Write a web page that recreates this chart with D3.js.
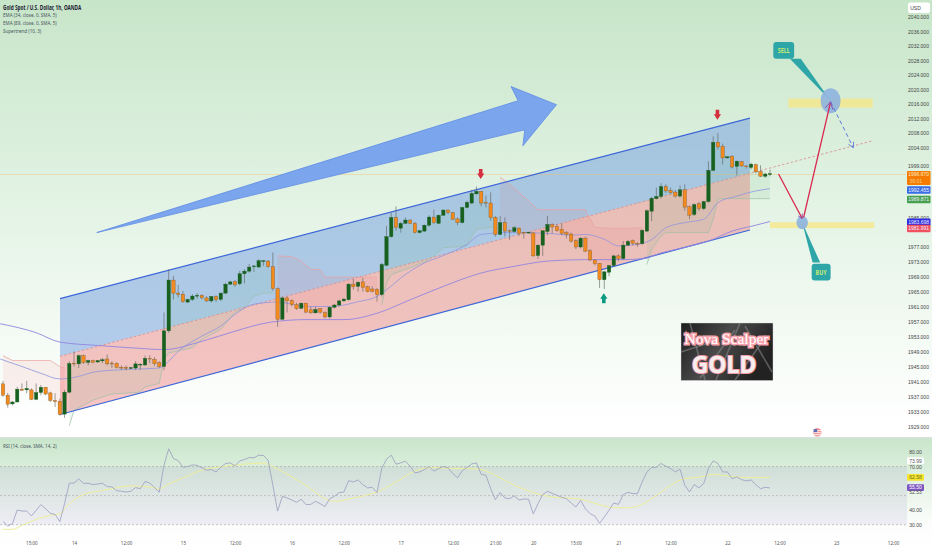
<!DOCTYPE html>
<html><head><meta charset="utf-8">
<script src="https://cdnjs.cloudflare.com/ajax/libs/d3/7.8.5/d3.min.js"></script>
<style>html,body{margin:0;padding:0;background:#fff;overflow:hidden}svg{display:block}text{font-family:"Noto Sans",Roboto,sans-serif}text.keep.num{font-family:"Liberation Sans",sans-serif}</style>
</head><body><div id="c"></div>
<script>
// ---- candles (1h, prices in USD)
const opens=[1940.4,1937.4,1935.1,1935.6,1939.0,1938.8,1938.8,1936.3,1938.1,1939.5,1938.0,1936.0,1935.8,1932.4,1938.2,1945.9,1945.7,1947.9,1946.1,1946.6,1946.2,1946.5,1947.0,1945.9,1945.8,1944.8,1944.8,1944.5,1944.6,1945.4,1945.4,1947.2,1946.9,1946.0,1945.0,1954.5,1968.1,1964.6,1964.3,1962.2,1962.9,1963.8,1964.0,1963.3,1962.5,1963.7,1962.9,1964.6,1967.0,1967.7,1967.1,1969.8,1970.5,1971.7,1971.6,1973.2,1973.2,1971.7,1965.8,1957.6,1963.3,1962.6,1961.5,1960.5,1961.9,
1960.1,1959.3,1960.4,1959.4,1958.2,1960.8,1961.4,1962.5,1962.8,1967.0,1966.4,1967.6,1966.3,1965.7,1965.6,1964.2,1972.1,1979.8,1985.0,1982.1,1983.4,1984.3,1983.4,1980.9,1981.3,1982.9,1985.1,1983.4,1985.6,1987.0,1986.3,1984.6,1983.6,1987.7,1988.9,1991.4,1992.1,1989.1,1988.9,1985.0,1980.4,1983.6,1981.4,1981.2,1982.1,1981.0,1980.8,1980.8,1974.7,1977.5,1981.2,1983.1,1982.5,1981.8,1980.9,1980.5,1978.7,1977.0,1979.4,1976.0,1973.5,1972.6,1968.2,1970.2,1972.0,1974.6,
1973.9,1977.5,1978.7,1978.0,1977.9,1981.3,1986.7,1990.1,1990.7,1993.4,1992.4,1991.9,1990.8,1992.5,1987.9,1985.8,1988.7,1987.4,1989.3,1997.8,2005.5,2004.4,2001.2,2001.7,1998.9,2000.2,1999.0,1998.6,1999.4,1997.5,1996.2,1996.7];
const highs=[1941.2,1938.0,1935.8,1939.6,1940.5,1941.2,1939.2,1940.5,1940.1,1939.6,1938.3,1937.9,1936.5,1938.8,1946.4,1949.0,1948.2,1948.2,1946.8,1946.8,1946.7,1947.3,1948.2,1946.4,1946.1,1945.3,1945.3,1944.9,1946.4,1945.9,1947.9,1948.0,1947.5,1946.4,1959.4,1971.0,1969.2,1966.8,1965.2,1963.1,1964.3,1964.6,1964.3,1963.8,1963.8,1964.0,1964.7,1967.4,1967.9,1968.1,1970.6,1971.0,1972.4,1972.1,1973.7,1973.5,1973.5,1975.5,1966.1,1963.7,1963.7,1962.9,1962.0,1962.0,1962.0,
1961.0,1961.0,1960.6,1959.7,1961.0,1961.7,1962.8,1963.2,1967.3,1968.4,1967.8,1968.7,1966.6,1966.4,1966.0,1972.7,1982.7,1986.3,1988.0,1983.8,1985.0,1984.5,1983.8,1981.6,1983.1,1985.6,1987.1,1985.8,1987.2,1987.2,1986.5,1985.0,1987.9,1989.5,1992.5,1993.4,1992.2,1990.9,1991.8,1985.4,1985.4,1985.0,1981.8,1982.7,1982.3,1981.1,1981.1,1981.0,1977.7,1981.5,1985.4,1983.4,1983.1,1983.4,1981.3,1980.9,1979.1,1979.6,1979.8,1976.4,1973.6,1972.7,1970.5,1972.2,1974.9,1975.0,
1978.6,1978.9,1979.0,1978.3,1981.8,1987.2,1990.6,1993.1,1994.3,1994.0,1993.1,1992.5,1993.7,1994.0,1988.3,1988.8,1989.2,1989.5,2000.3,2007.1,2008.0,2005.1,2001.7,2001.9,2000.5,2000.4,1999.2,1999.9,1999.6,1999.2,1997.2,1998.0];
const lows=[1937.0,1934.1,1934.7,1935.5,1938.5,1937.9,1936.1,1936.1,1937.4,1937.4,1935.6,1934.3,1932.0,1931.4,1937.9,1945.0,1944.6,1945.7,1945.3,1945.9,1946.0,1945.9,1945.3,1944.6,1944.5,1944.1,1944.0,1944.3,1944.1,1944.1,1945.2,1945.9,1945.2,1944.6,1944.0,1954.0,1962.9,1963.4,1962.0,1961.9,1962.5,1963.1,1962.9,1962.2,1962.0,1962.2,1962.5,1964.3,1966.8,1966.3,1966.7,1967.2,1970.1,1970.3,1971.4,1971.9,1971.4,1965.2,1955.6,1957.4,1959.4,1961.0,1960.1,1960.3,1959.2,
1959.1,1959.1,1959.1,1957.8,1957.8,1960.5,1961.0,1962.3,1962.6,1965.5,1965.0,1965.0,1964.8,1964.8,1962.3,1963.7,1971.8,1979.5,1981.4,1980.9,1983.2,1983.2,1980.7,1980.7,1981.1,1982.5,1983.2,1983.2,1985.4,1985.9,1984.3,1982.9,1983.4,1987.5,1988.6,1991.2,1988.0,1987.7,1984.1,1979.8,1980.2,1979.8,1978.9,1980.9,1980.0,1979.3,1980.6,1974.4,1973.8,1974.6,1980.2,1980.7,1981.1,1980.2,1979.3,1978.2,1976.4,1976.6,1975.6,1973.2,1972.0,1966.0,1965.7,1969.1,1971.8,1973.2,
1973.6,1977.2,1977.5,1977.1,1977.6,1981.0,1984.0,1989.9,1990.1,1991.7,1991.3,1990.4,1990.4,1986.8,1984.5,1985.4,1986.8,1987.0,1989.0,1997.6,2003.5,1999.4,2001.0,1998.3,1996.4,1998.8,1998.3,1998.1,1997.0,1996.0,1995.8,1996.2];
const closes=[1937.4,1935.0,1935.6,1939.0,1938.7,1939.2,1936.3,1938.1,1939.5,1937.7,1936.0,1935.7,1932.3,1938.2,1945.8,1945.7,1947.9,1946.1,1946.6,1946.1,1946.6,1946.8,1945.7,1945.7,1944.8,1944.6,1944.5,1944.7,1945.7,1945.6,1947.2,1947.0,1945.8,1945.0,1954.5,1968.1,1964.6,1964.2,1962.3,1962.9,1963.8,1964.0,1963.3,1962.5,1963.7,1962.8,1964.6,1967.0,1967.6,1966.8,1969.8,1970.5,1971.6,1971.9,1973.3,1973.3,1971.7,1965.8,1957.6,1963.3,1962.5,1961.5,1960.4,1961.9,1959.5,
1959.3,1960.2,1959.5,1958.2,1960.8,1961.4,1962.5,1963.0,1967.0,1966.3,1967.5,1966.1,1965.0,1965.0,1964.2,1972.3,1979.8,1985.0,1982.3,1983.4,1984.3,1983.4,1980.9,1981.4,1982.9,1985.1,1983.6,1985.6,1987.0,1986.3,1984.5,1983.6,1987.7,1989.1,1991.5,1992.1,1988.9,1988.9,1984.9,1980.4,1983.6,1981.3,1981.3,1982.2,1980.6,1980.8,1981.0,1974.6,1977.5,1981.4,1983.1,1982.4,1981.4,1980.7,1980.4,1978.6,1977.0,1979.4,1975.9,1973.5,1972.5,1968.2,1970.3,1972.0,1974.6,1973.9,
1977.5,1978.5,1978.0,1977.9,1981.5,1986.8,1990.2,1990.7,1993.4,1992.2,1991.7,1990.8,1992.5,1987.8,1985.6,1988.5,1987.4,1989.3,1997.8,2005.5,2004.2,2001.2,2001.5,1998.7,2000.3,1999.0,1998.8,1999.5,1997.4,1996.2,1996.8,1996.9];

// ---- RSI (one value per candle) and its moving average (read at the listed bars)
const rsi=[32.3,29.1,30.7,40.1,39.4,39.4,36.0,39.9,43.8,41.0,37.8,37.1,32.1,44.5,58.5,58.7,61.5,58.5,58.5,57.6,58.0,58.5,56.2,56.0,53.4,53.0,52.5,53.0,55.5,54.8,59.7,58.7,55.5,52.3,70.9,82.2,75.5,74.1,69.5,70.0,71.1,70.9,69.1,67.5,67.9,66.3,69.5,72.1,72.5,70.5,73.9,74.8,76.2,76.0,77.8,77.6,74.4,57.1,39.4,49.5,48.4,47.0,45.4,47.5,43.8,44.0,46.1,44.5,42.4,47.9,49.5,52.1,52.5,60.3,59.4,60.8,57.6,55.3,55.7,52.1,68.6,75.1,77.8,71.6,72.5,73.7,70.2,65.6,66.3,67.9,70.0,66.8,68.6,70.0,69.1,65.2,62.2,67.2,69.3,71.8,72.5,64.7,64.0,54.8,47.2,52.1,48.4,47.9,49.8,47.0,47.7,47.5,37.4,44.5,50.7,53.0,51.6,50.2,48.9,47.9,44.9,42.2,46.8,41.0,37.6,36.0,30.9,35.3,39.9,44.9,44.0,50.7,52.3,51.4,51.4,59.4,66.3,69.3,69.5,72.1,70.2,68.6,66.3,68.2,57.1,52.5,57.6,55.3,58.3,68.6,73.9,72.1,66.3,66.3,61.7,62.9,61.0,60.1,60.8,57.6,54.8,55.7,55.3];
const rsiMaBars=[0,2,4,7,10,12,14,17,20,23,27,31,33,35,38,42,46,50,55,57,61,65,68,70,74,79,83,87,91,95,98,101,104,108,112,116,119,122,126,129,132,135,138,141,144,147,150,153,157,162];
const rsiMaVals=[26.8,26.8,29.5,33.7,36.4,37.6,44.5,50.7,53.0,54.8,56.7,56.0,54.8,58.0,62.2,67.5,69.8,71.4,72.3,69.8,62.9,54.8,47.9,46.1,48.4,52.5,59.4,66.8,69.3,68.6,68.6,67.9,64.0,57.1,52.1,49.1,48.4,47.5,43.8,41.7,41.7,44.0,50.2,57.1,61.7,62.6,64.5,63.6,62.4,62.4];

// ---- moving averages (read at the listed bars)
const ema34Bars=[-0.6,4,8,12,15,20,30,33,35,37,42,46,49,53,58,64,69,72,75,79,81,85,89,93,98,101,107,115,120,123,127,130,134,137,140,144,148,151,155,159,162];
const ema34Vals=[1947.0,1945.0,1943.2,1941.7,1942.1,1943.7,1944.4,1944.6,1946.4,1949.0,1953.1,1955.8,1958.9,1961.6,1962.2,1961.0,1961.0,1961.4,1962.3,1963.7,1965.5,1969.6,1972.7,1974.7,1977.7,1980.4,1980.9,1980.7,1980.2,1980.4,1979.1,1977.3,1977.7,1979.0,1982.2,1983.6,1984.5,1989.0,1990.8,1992.2,1992.8];
const ema89Bars=[-0.6,7,12,20,28,34,42,49,56,64,72,79,86,93,101,108,115,123,130,135,139,145,149,154,159,162];
const ema89Vals=[1956.4,1954.0,1951.5,1950.6,1949.9,1949.5,1951.7,1954.4,1956.7,1957.5,1957.5,1959.2,1962.8,1966.4,1970.0,1971.8,1973.2,1973.6,1973.6,1973.8,1975.4,1977.2,1978.6,1981.3,1982.9,1983.9];

// ---- supertrend legs
const stDownA={bars:[0,2,10,12,13],vals:[1947.9,1946.6,1946.6,1945.0,1944.6]};
const stUpA={bars:[14,15,19,23,28,29,30,33,34,35,40,42,46,49,51,53,55,57],vals:[1929.3,1933.4,1936.1,1937.7,1938.1,1938.3,1939.6,1940.5,1946.8,1948.6,1950.0,1952.2,1954.9,1959.4,1960.7,1963.8,1964.6,1964.6]};
const stDownB={bars:[58,61,63,65,67,68,79],vals:[1974.6,1974.4,1973.2,1971.0,1970.9,1968.9,1968.9]};
const stUpB={bars:[80,81,82,86,90,93,98,99,100,104],vals:[1961.4,1967.3,1969.6,1971.4,1973.6,1976.8,1977.3,1979.8,1981.8,1982.5]};
const stDownC={bars:[105,106,109,113,123,125,130,135],vals:[1995.9,1995.0,1991.8,1987.1,1987.1,1982.3,1982.0,1982.2]};
const stUpC={bars:[136,137,139,140,149,150,151,162],vals:[1972.3,1976.3,1980.0,1980.9,1980.9,1984.5,1990.1,1990.1]};

// ---- drawings, in bars and prices
const channelBars=[12.04,157.76];
const channelTop=[1963.1,2012.1];
const channelMid=[1947.7,1997.0];
const channelLow=[1932.3,1981.6];
const midExtBar=183.7, midExtPrice=2005.9;
const bigArrowBars=[19.8,108.8,107.3,116.9,109.8,110.2];
const bigArrowPrices=[1980.9,2016.9,2020.8,2015.8,2004.5,2008.9];
const downMarks=[[100.9,1996.8],[150.9,2013.0]];
const upMarks=[[126.9,1963.2]];
const zoneSell=[165.9,183.7,2017.5,2015.0], zoneBuy=[162.0,184.0,1983.7,1982.1];
const pathRedBars=[163.8,168.8,169.1,174.8], pathRedPrices=[1996.8,1984.7,1985.0,2016.6];
const pathBlueBars=[174.8,179.6], pathBluePrices=[2016.6,2004.0];
const circleSell=[174.8,2016.9], circleBuy=[168.8,1983.6];
const sellBubble=[166.2,168.5,2028.5], buyBubble=[171,172.6,1972.8];
const buyBox=[170.8,174.8,1972.5,1968.0], sellBox=[162.7,167.1,2033.1,2028.5];

// ---- labels
const priceTicks=[2040,2036,2032,2028,2024,2020,2016,2012,2008,2004,1999,1985,1977,1973,1969,1965,1961,1957,1953,1949,1945,1941,1937,1933,1929];
const timeBars=[6,15,26,38,49,61,72,84,95,104,112,121,130,141,153,164,176,188];
const timeLabels=["15:00","14","12:00","15","12:00","16","12:00","17","12:00","21:00","20","15:00","21","12:00","22","12:00","23","12:00"];
const legendLines=["EMA (34, close, 0, SMA, 5)","EMA (89, close, 0, SMA, 5)","Supertrend (10, 3)"];
const priceTags=[{v:1992.455,c:"#3a6ee6"},{v:1989.871,c:"#47a04f"},{v:1983.698,c:"#2b2be0"},{v:1981.991,c:"#f0505f"}];
const lastPrice=1996.67, countdown="39:01";
const rsiTicks=[80,70,40,30];
const rsiTags=[{v:73.99,c:"#fff",t:"#555"},{v:62.58,c:"#f5e52e",t:"#6f6f20"},{v:55.50,c:"#7e57c2",t:"#fff"},{v:52.53,c:"none",t:"#555"}];

// ---- layout
const W=932,H=550,paneBottom=437,rsiTop=439;
const x=d3.scaleLinear().domain([0,162]).range([3,770]);
const y=d3.scaleLog().domain([1929,2040]).range([427,17.3]);
const yR=d3.scaleLinear().domain([30,80]).range([524.7,452]);
const bodyW=3.4, numSize=5;

const svg=d3.select("#c").append("svg").attr("width",W).attr("height",H).attr("viewBox",`0 0 ${W} ${H}`);
const defs=svg.append("defs");
function grad(id,stops,x2=0,y2=1){const g=defs.append("linearGradient").attr("id",id).attr("x1",0).attr("y1",0).attr("x2",x2).attr("y2",y2);
 stops.forEach(s=>g.append("stop").attr("offset",s[0]).attr("stop-color",s[1]));}
grad("bgMain",[[0,"#c7e5c9"],[0.5,"#e5f4e6"],[0.97,"#ffffff"]]);
grad("bgRsi",[[0,"#c9e6cb"],[0.75,"#fbfdfb"],[1,"#ffffff"]]);
grad("bill",[[0,"#1c1c1c"],[0.5,"#4a4a4a"],[1,"#222"]],1,0.4);

svg.append("rect").attr("width",W).attr("height",paneBottom).attr("fill","url(#bgMain)");
svg.append("rect").attr("y",paneBottom).attr("width",W).attr("height",2).attr("fill","#d5e2da");
svg.append("rect").attr("y",rsiTop).attr("width",W).attr("height",H-rsiTop).attr("fill","url(#bgRsi)");
svg.append("rect").attr("y",yR(70)).attr("width",907).attr("height",yR(30)-yR(70)).attr("fill","rgba(115,95,175,0.10)");

const lineFn=d3.line().x(d=>x(d[0])).y(d=>y(d[1]));
const zip=(a,b)=>a.map((v,i)=>[v,b[i]]);

// channel
svg.append("path").attr("d",lineFn([[channelBars[0],channelTop[0]],[channelBars[1],channelTop[1]],[channelBars[1],channelMid[1]],[channelBars[0],channelMid[0]]])+"Z").attr("fill","#6f9be0").attr("fill-opacity",.5);
svg.append("path").attr("d",lineFn([[channelBars[0],channelMid[0]],[channelBars[1],channelMid[1]],[channelBars[1],channelLow[1]],[channelBars[0],channelLow[0]]])+"Z").attr("fill","#ee8a8a").attr("fill-opacity",.5);

// last price line
svg.append("line").attr("x1",0).attr("x2",906).attr("y1",y(lastPrice)).attr("y2",y(lastPrice)).attr("stroke","#f3c070").attr("stroke-opacity",.42).attr("stroke-width",1);

// supertrend fill + lines
const mids=opens.map((o,i)=>(o+closes[i])/2);
function stLeg(leg,col,fill){
  const s=d3.scaleLinear().domain(leg.bars).range(leg.vals);
  const a=leg.bars[0],b=leg.bars[leg.bars.length-1];
  const idx=d3.range(a,b+1);
  svg.append("path").attr("d",d3.area().x(i=>x(i)).y0(i=>y(s(i))).y1(i=>y(mids[i]))(idx)).attr("fill",fill);
  svg.append("path").attr("d",lineFn(zip(leg.bars,leg.vals))).attr("fill","none").attr("stroke",col).attr("stroke-width",.7);
}
[stDownA,stDownB,stDownC].forEach(l=>stLeg(l,"#e9a0a0","rgba(240,90,90,0.09)"));
[stUpA,stUpB,stUpC].forEach(l=>stLeg(l,"#9dbfa8","rgba(90,190,130,0.10)"));

// channel lines
svg.append("path").attr("d",lineFn(zip(channelBars,channelTop))).attr("stroke","#3c66d8").attr("stroke-width",1.2).attr("fill","none");
svg.append("path").attr("d",lineFn(zip(channelBars,channelLow))).attr("stroke","#3c66d8").attr("stroke-width",1.2).attr("fill","none");
svg.append("path").attr("d",lineFn([[channelBars[0],channelMid[0]],[midExtBar,midExtPrice]])).attr("stroke","#d98a8a").attr("stroke-width",.8).attr("stroke-dasharray","2.5 2").attr("fill","none");

// EMAs
const smooth=d3.line().x(d=>x(d[0])).y(d=>y(d[1])).curve(d3.curveMonotoneX);
svg.append("path").attr("d",smooth(zip(ema34Bars,ema34Vals))).attr("fill","none").attr("stroke","#8f95e0").attr("stroke-width",.8);
svg.append("path").attr("d",smooth(zip(ema89Bars,ema89Vals))).attr("fill","none").attr("stroke","#9384e0").attr("stroke-width",.9);

// candles
const idxs=d3.range(opens.length);
const upC="#17601f",dnC="#f28a1e";
svg.append("g").selectAll("line").data(idxs).join("line")
 .attr("x1",x).attr("x2",x).attr("y1",i=>y(highs[i])).attr("y2",i=>y(lows[i]))
 .attr("stroke","#5a5f5a").attr("stroke-width",.6);
svg.append("g").selectAll("rect").data(idxs).join("rect")
 .attr("x",i=>x(i)-bodyW/2).attr("width",bodyW)
 .attr("y",i=>y(Math.max(opens[i],closes[i])))
 .attr("height",i=>Math.max(.8,Math.abs(y(opens[i])-y(closes[i]))))
 .attr("fill",i=>closes[i]>=opens[i]?upC:dnC)
 .attr("stroke",i=>closes[i]>=opens[i]?upC:"#7a5a30").attr("stroke-width",.35);

// big arrow
svg.append("path").attr("d",lineFn(zip(bigArrowBars,bigArrowPrices))+"Z").attr("fill","#7ba5ec").attr("stroke","#5f8be6").attr("stroke-width",.8);

// signal marks
function mark(list,col,dir){
 svg.append("g").selectAll("path").data(list).join("path")
  .attr("transform",d=>`translate(${x(d[0])},${y(d[1])}) scale(1,${dir})`)
  .attr("d","M-1.8,-5L1.8,-5L1.8,-0.5L3.6,-0.5L0,5L-3.6,-0.5L-1.8,-0.5Z").attr("fill",col);
}
mark(downMarks,"#d32f3f",1);
mark(upMarks,"#0c9a80",-1);

// zones
[zoneSell,zoneBuy].forEach(z=>svg.append("rect").attr("x",x(z[0])).attr("width",x(z[1])-x(z[0])).attr("y",y(z[2])).attr("height",y(z[3])-y(z[2])).attr("fill","#f4e88e").attr("fill-opacity",.85));

// callouts
const teal="#2ea6a8";
svg.append("path").attr("d",d3.line()([[x(sellBubble[0]),y(sellBubble[2])],[x(sellBubble[1]),y(sellBubble[2])],[x(circleSell[0]),y(circleSell[1])]])+"Z").attr("fill",teal);
svg.append("path").attr("d",d3.line()([[x(buyBubble[0]),y(buyBubble[2])],[x(buyBubble[1]),y(buyBubble[2])],[x(circleBuy[0]),y(circleBuy[1])]])+"Z").attr("fill",teal);
[[sellBox,"SELL"],[buyBox,"BUY"]].forEach(([b,t])=>{
 svg.append("rect").attr("x",x(b[0])).attr("y",y(b[2])).attr("width",x(b[1])-x(b[0])).attr("height",y(b[3])-y(b[2])).attr("rx",3).attr("fill",teal);
 svg.append("text").attr("x",(x(b[0])+x(b[1]))/2).attr("y",(y(b[2])+y(b[3]))/2+2.5).attr("text-anchor","middle").attr("font-size",7).attr("font-weight",700).attr("fill","#c4ea72").text(t);
});
// circles
svg.append("ellipse").attr("cx",x(circleSell[0])).attr("cy",y(circleSell[1])).attr("rx",10).attr("ry",12.5).attr("fill","#8fb4de").attr("fill-opacity",.92);
svg.append("ellipse").attr("cx",x(circleBuy[0])).attr("cy",y(circleBuy[1])).attr("rx",5.8).attr("ry",6.6).attr("fill","#8fb4de").attr("fill-opacity",.92);

// trade paths
function head(x0,y0,x1,y1,len,col,w){
 const a=Math.atan2(y1-y0,x1-x0),s=.5;
 svg.append("path").attr("d",d3.line()([[x1-len*Math.cos(a-s),y1-len*Math.sin(a-s)],[x1,y1],[x1-len*Math.cos(a+s),y1-len*Math.sin(a+s)]])).attr("fill","none").attr("stroke",col).attr("stroke-width",w);
}
svg.append("path").attr("d",lineFn(zip(pathRedBars.slice(0,2),pathRedPrices.slice(0,2)))).attr("stroke","#d9274f").attr("stroke-width",1.3).attr("fill","none");
svg.append("path").attr("d",lineFn(zip(pathRedBars.slice(2),pathRedPrices.slice(2)))).attr("stroke","#d9274f").attr("stroke-width",1.3).attr("fill","none");
head(x(pathRedBars[0]),y(pathRedPrices[0]),x(pathRedBars[1]),y(pathRedPrices[1]),5,"#8a50b0",.9);
head(x(pathRedBars[2]),y(pathRedPrices[2]),x(pathRedBars[3]),y(pathRedPrices[3]),8,"#8a50b0",1);
svg.append("path").attr("d",lineFn(zip(pathBlueBars,pathBluePrices))).attr("stroke","#5b78d8").attr("stroke-width",1).attr("stroke-dasharray","4 3").attr("fill","none");
head(x(pathBlueBars[0]),y(pathBluePrices[0]),x(pathBlueBars[1]),y(pathBluePrices[1]),6,"#5b78d8",.9);

// logo image
const L=svg.append("g");
L.append("rect").attr("x",681).attr("y",323).attr("width",92).attr("height",57.5).attr("fill","url(#bill)").attr("stroke","#ddd").attr("stroke-width",.4);
const streaks=[[690,323,705,380],[740,323,716,380],[760,345,735,380],[681,352,718,340],[745,326,772,372],[700,378,735,330]];
L.selectAll("line").data(streaks).join("line").attr("x1",d=>d[0]).attr("y1",d=>d[1]).attr("x2",d=>d[2]).attr("y2",d=>d[3]).attr("stroke","#8a8a8a").attr("stroke-opacity",.55).attr("stroke-width",1.6);
L.append("text").attr("class","keep").attr("x",726.5).attr("y",344).attr("text-anchor","middle").attr("font-size",15.5).style("font-family","'Liberation Serif',serif").attr("fill","#fff").attr("stroke","#f7a3ad").attr("stroke-width",3).attr("paint-order","stroke").text("Nova Scalper");
L.append("text").attr("class","keep").attr("x",724).attr("y",372.5).attr("text-anchor","middle").attr("font-size",23).attr("font-weight",700).attr("fill","#f6eeee").attr("stroke","#f29aa5").attr("stroke-width",2).attr("paint-order","stroke").text("GOLD");

// flag icon
const F=svg.append("g").attr("transform","translate(817.3,432.3)");
F.append("circle").attr("r",4.4).attr("fill","#f08a8a").attr("stroke","#fff").attr("stroke-width",.4);
[-2,0,2].forEach(d=>F.append("rect").attr("x",-4).attr("y",d).attr("width",8).attr("height",.9).attr("fill","#fff"));
F.append("rect").attr("x",-3.6).attr("y",-3.2).attr("width",3.4).attr("height",3).attr("fill","#5a6fb8");

// price axis
const axY=svg.append("g").attr("transform","translate(918.5,0)").call(d3.axisRight(y).tickValues(priceTicks).tickSize(0).tickPadding(0).tickFormat(d3.format(".3f")));
axY.select(".domain").remove();
axY.selectAll("text").attr("class","keep num").attr("text-anchor","middle").attr("font-size",numSize).attr("fill","#444");

// price tags
function tag(yc,h,col,txt,tc){
 svg.append("rect").attr("x",907).attr("y",yc-h/2).attr("width",23.5).attr("height",h).attr("rx",1).attr("fill",col);
 svg.append("text").attr("class","keep num").attr("x",918.7).attr("y",yc+1.8).attr("text-anchor","middle").attr("font-size",numSize).attr("fill",tc).text(txt);
}
const yl=y(lastPrice);
svg.append("rect").attr("x",907).attr("y",yl-3.6).attr("width",23.5).attr("height",14).attr("rx",1).attr("fill","#f57c00");
svg.append("text").attr("class","keep num").attr("x",918.7).attr("y",yl+1.7).attr("text-anchor","middle").attr("font-size",numSize).attr("fill","#fdeccc").text(d3.format(".3f")(lastPrice));
svg.append("text").attr("class","keep num").attr("x",909.5).attr("y",yl+8.2).attr("font-size",numSize).attr("fill","#fbd08a").text(countdown);
priceTags.forEach(t=>tag(y(t.v),7.4,t.c,d3.format(".3f")(t.v),"#eef"));

// USD button
svg.append("rect").attr("x",908).attr("y",2.5).attr("width",22).attr("height",10.5).attr("rx",2).attr("fill","#fff");
svg.append("text").attr("class","keep num").attr("x",915.5).attr("y",10).attr("text-anchor","middle").attr("font-size",numSize).attr("fill","#444").text("USD");

// legend
svg.append("text").attr("x",3).attr("y",9.5).attr("font-size",6.1).attr("font-weight",700).attr("fill","#223").text("Gold Spot / U.S. Dollar, 1h, OANDA");
legendLines.forEach((t,i)=>svg.append("text").attr("x",3).attr("y",17.3+i*7.8).attr("font-size",5.9).attr("fill","#4a5560").text(t));

// RSI pane
[70,50,30].forEach(v=>svg.append("line").attr("x1",0).attr("x2",907).attr("y1",yR(v)).attr("y2",yR(v)).attr("stroke","#a5a5a5").attr("stroke-width",.6).attr("stroke-dasharray","2 2"));
svg.append("path").attr("d",d3.line().x(d=>x(d[0])).y(d=>yR(d[1])).curve(d3.curveMonotoneX)(zip(rsiMaBars,rsiMaVals))).attr("fill","none").attr("stroke","#eeee9a").attr("stroke-width",1);
svg.append("path").attr("d",d3.line().x((d,i)=>x(i)).y(d=>yR(d))(rsi)).attr("fill","none").attr("stroke","#9a9cc0").attr("stroke-width",.8);
svg.append("text").attr("x",3).attr("y",448).attr("font-size",5.9).attr("fill","#4a5560").text("RSI (14, close, SMA, 14, 2)");
const axR=svg.append("g").attr("transform","translate(915.5,0)").call(d3.axisRight(yR).tickValues(rsiTicks).tickSize(0).tickPadding(0).tickFormat(d3.format(".2f")));
axR.select(".domain").remove();
axR.selectAll("text").attr("class","keep num").attr("text-anchor","middle").attr("font-size",numSize).attr("fill","#444");
rsiTags.forEach(t=>{
 const yc=yR(t.v);
 if(t.c!=="none")svg.append("rect").attr("x",907).attr("y",yc-3.4).attr("width",17).attr("height",6.8).attr("rx",1).attr("fill",t.c);
 svg.append("text").attr("class","keep num").attr("x",915.5).attr("y",yc+1.8).attr("text-anchor","middle").attr("font-size",numSize).attr("fill",t.t).text(d3.format(".2f")(t.v));
});

// time axis
const axX=svg.append("g").attr("transform","translate(0,541)").call(d3.axisBottom(x).tickValues(timeBars).tickSize(0).tickPadding(0).tickFormat((d,i)=>timeLabels[i]));
axX.select(".domain").remove();
axX.selectAll("text").attr("font-size",5.9).attr("fill","#555").style("font-family","'Noto Sans',sans-serif");

// the reference's small left-hand and time labels are set in a condensed face
svg.selectAll("text:not(.keep)").each(function(){
  const n=this.getComputedTextLength();
  if(n>0){this.setAttribute("textLength",(n*0.77).toFixed(2));this.setAttribute("lengthAdjust","spacingAndGlyphs");}
});
</script></body></html>
